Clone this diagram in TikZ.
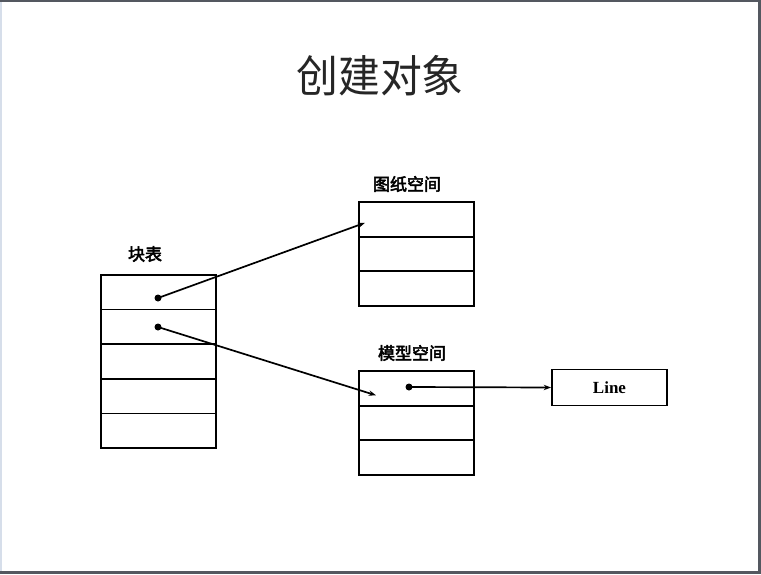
\documentclass[tikz,border=0pt]{standalone}
\usepackage{fontspec}
\newfontfamily\cjk{Noto Sans CJK SC}[AutoFakeBold=3]
\newfontfamily\cjktitle{Noto Sans CJK SC}
\newfontfamily\serifline{Liberation Serif}
\usetikzlibrary{arrows.meta,positioning}
\definecolor{framegray}{RGB}{84,88,96}
\definecolor{frameblue}{RGB}{214,222,234}
\tikzset{
  ptr/.style       = {-{Stealth[length=2.6mm,width=1.9mm]}, line width=1.7pt},
  cell/.style      = {draw, line width=1.8pt, minimum width=115pt, minimum height=34.7pt,
                      inner sep=0pt, outer sep=0pt},
  ptr dot/.style   = {circle, fill=black, inner sep=0pt, minimum size=7pt},
  tablabel/.style  = {font=\cjk\bfseries\fontsize{17}{19}\selectfont},
  linebox/.style   = {draw, line width=1.8pt, minimum width=115pt, minimum height=36pt,
                      inner sep=0pt, font=\serifline\bfseries\fontsize{17}{19}\selectfont},
}

\begin{document}
\begin{tikzpicture}[x=1pt,y=-1pt]
  \useasboundingbox (0,0) rectangle (761,574);
  % window frame
  \fill[frameblue] (0,0) rectangle (2,574);
  \fill[framegray] (0,0) rectangle (761,2);
  \fill[framegray] (758,0) rectangle (761,574);
  \fill[framegray] (0,571) rectangle (761,574);

  \node[font=\cjktitle\fontsize{44}{48}\selectfont, xscale=0.95, text=black!85] (title) at (380,76) {创建对象};

  % block table
  \foreach \i in {1,...,5}
    \node[cell] (kb\i) at (158.5,{257.4+34.7*\i}) {};
  \node[tablabel] (kblabel) at (145,254) {块表};

  % paper space
  \foreach \i in {1,...,3}
    \node[cell] (tz\i) at (416.5,{184.6+34.7*\i}) {};
  \node[tablabel] (tzlabel) at (407,184) {图纸空间};

  % model space
  \foreach \i in {1,...,3}
    \node[cell] (mx\i) at (416.5,{353.6+34.7*\i}) {};
  \node[tablabel] (mxlabel) at (412,353) {模型空间};

  \node[linebox] (line) at (609.5,387.5) {Line};

  \node[ptr dot] (d1) at (158,298) {};
  \node[ptr dot] (d2) at (158,327) {};
  \node[ptr dot] (d3) at (409,387) {};
  \coordinate (tzin) at ([xshift=6pt,yshift=-3.5pt]tz1.west);
  \coordinate (mxin) at ([xshift=17pt,yshift=-7pt]mx1.west);

  \draw[ptr] (d1.center) -- (tzin);
  \draw[ptr] (d2.center) -- (mxin);
  \draw[ptr] (d3.center) -- (line.west);
\end{tikzpicture}
\end{document}
